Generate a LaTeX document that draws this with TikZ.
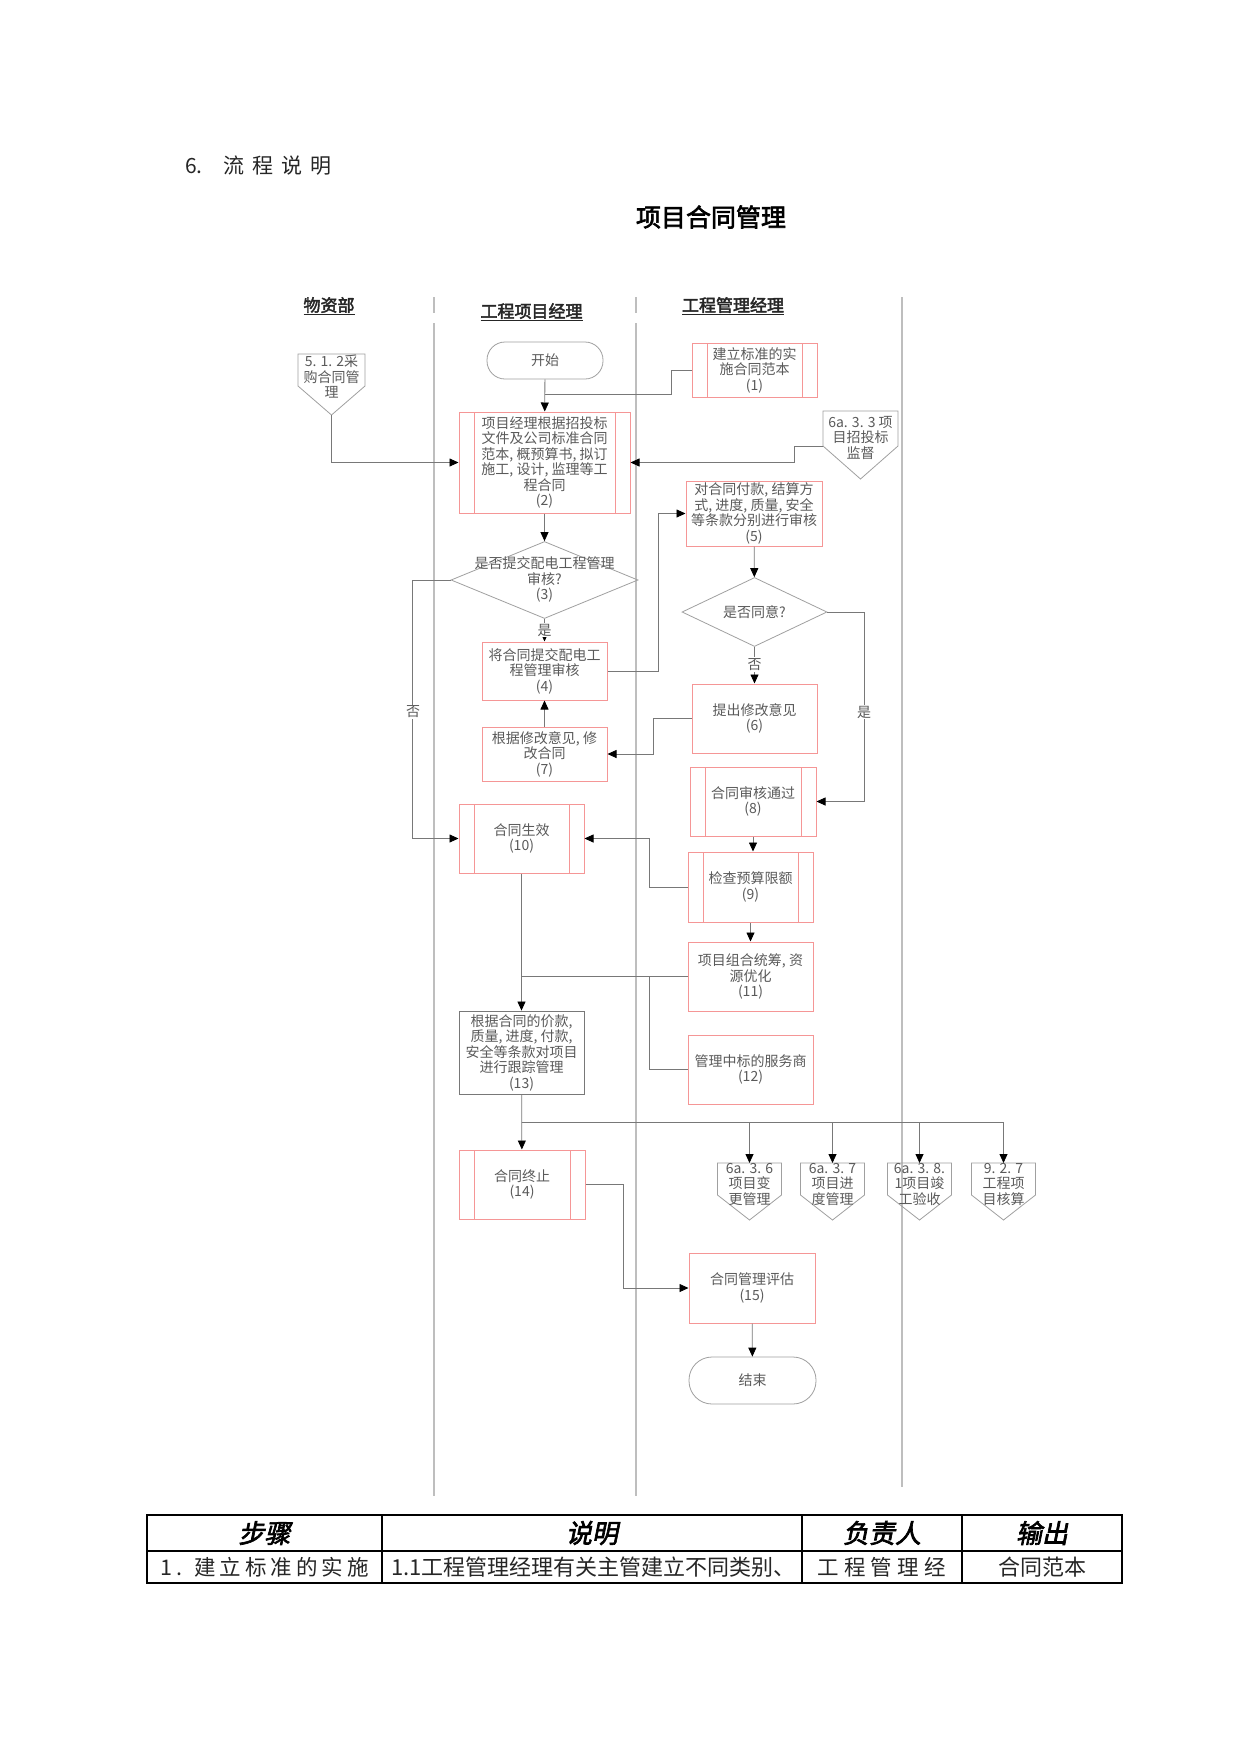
\documentclass[tikz,border=0pt]{standalone}
\usepackage{fontspec}
\setmainfont{Noto Sans CJK SC}[AutoFakeBold=2.5,AutoFakeSlant=0.2]
\usetikzlibrary{arrows.meta, calc, shapes.geometric}
\definecolor{boxred}{RGB}{245,150,150}
\definecolor{linegray}{RGB}{120,120,120}
\definecolor{lanegray}{RGB}{190,190,190}
\definecolor{textgray}{RGB}{90,90,90}

\begin{document}
\begin{tikzpicture}[x=1pt, y=-1pt,
    boxtext/.style={font=\fontsize{14}{15.5}\selectfont, text=textgray, align=center, inner sep=0pt},
    proc/.style={rectangle, draw=boxred, line width=1pt, boxtext},
    subproc/.style={proc, path picture={
        \draw[boxred, line width=1pt] ([xshift=15pt]path picture bounding box.north west) -- ([xshift=15pt]path picture bounding box.south west)
          ([xshift=-15pt]path picture bounding box.north east) -- ([xshift=-15pt]path picture bounding box.south east);}},
    grayproc/.style={rectangle, draw=linegray, line width=0.9pt, boxtext},
    terminal/.style={rectangle, draw=linegray!70, line width=0.8pt, boxtext},
    decision/.style={diamond, draw=linegray!70, line width=0.8pt, inner sep=0pt},
    refshape/.style={draw=linegray!70, line width=0.8pt},
    conn/.style={draw=linegray, line width=0.8pt},
    connarr/.style={conn, -{Triangle[length=9pt, width=8pt, color=black]}},
    lane/.style={draw=lanegray, line width=1.6pt},
    lanehead/.style={font=\fontsize{17}{20}\selectfont\bfseries, text=black!85, inner sep=0pt, anchor=base},
    labeltext/.style={boxtext, fill=white, inner sep=1pt},
    tableline/.style={draw=black, line width=1.3pt}
]
\useasboundingbox (0,0) rectangle (1241,1754);
\fill[white] (0,0) rectangle (1241,1754);

% Headings
\node[font=\fontsize{21}{25}\selectfont, text=black!85, anchor=west, inner sep=0pt] (sec) at (185,166) {6.\hspace{21pt}{\addfontfeatures{LetterSpace=38}流程说明}};
\node[font=\fontsize{25}{30}\selectfont\bfseries, inner sep=0pt] (title) at (711,217) {项目合同管理};

% Lanes
\node[lanehead] (hwz) at (329,311.5) {\underline{物资部}};
\node[lanehead] (hgx) at (531.5,317.5) {\underline{工程项目经理}};
\node[lanehead] (hgl) at (733,311.5) {\underline{工程管理经理}};
\draw[lane] (434,297) -- (434,313);
\draw[lane] (434,323) -- (434,1496);
\draw[lane] (636,297) -- (636,313);
\draw[lane] (636,323) -- (636,1496);
\draw[lane] (902,297) -- (902,1487);

% Off-page references
\draw[refshape] (298,354) -- (365,354) -- (365,386) -- (331.5,415) -- (298,386) -- cycle;
\node[boxtext] (ref512) at (331.5,377) {5. 1. 2采\\购合同管\\理};
\coordinate (ref512tip) at (331.5,415);
\draw[refshape] (823,411) -- (898,411) -- (898,446) -- (860.5,479) -- (823,446) -- cycle;
\node[boxtext] (ref633) at (860.5,437.5) {6a. 3. 3 项\\目招投标\\监督};
\coordinate (ref633w) at (823,446);

\draw[refshape] (717.5,1163) -- (781.5,1163) -- (781.5,1195) -- (749.5,1220) -- (717.5,1195) -- cycle;
\node[boxtext] (ref636) at (749.5,1184) {6a. 3. 6\\项目变\\更管理};
\coordinate (ref636top) at (749.5,1163);
\draw[refshape] (800.5,1163) -- (864.5,1163) -- (864.5,1195) -- (832.5,1220) -- (800.5,1195) -- cycle;
\node[boxtext] (ref637) at (832.5,1184) {6a. 3. 7\\项目进\\度管理};
\coordinate (ref637top) at (832.5,1163);
\draw[refshape] (887.5,1163) -- (951.5,1163) -- (951.5,1195) -- (919.5,1220) -- (887.5,1195) -- cycle;
\node[boxtext] (ref638) at (919.5,1184) {6a. 3. 8.\\1项目竣\\工验收};
\coordinate (ref638top) at (919.5,1163);
\draw[refshape] (971.5,1163) -- (1035.5,1163) -- (1035.5,1195) -- (1003.5,1220) -- (971.5,1195) -- cycle;
\node[boxtext] (ref927) at (1003.5,1184) {9. 2. 7\\工程项\\目核算};
\coordinate (ref927top) at (1003.5,1163);

% Steps
\node[terminal, minimum width=116pt, minimum height=37pt, rounded corners=18pt] (start) at (545,360.5) {开始};
\node[subproc, minimum width=125pt, minimum height=54pt] (box1) at (754.5,370) {建立标准的实\\施合同范本\\(1)};
\node[subproc, minimum width=171pt, minimum height=101pt] (box2) at (544.5,462.5) {项目经理根据招投标\\文件及公司标准合同\\范本, 概预算书, 拟订\\施工, 设计, 监理等工\\程合同\\(2)};
\node[proc, minimum width=136pt, minimum height=65pt] (box5) at (754,513.5) {对合同付款, 结算方\\式, 进度, 质量, 安全\\等条款分别进行审核\\(5)};
\node[decision, minimum width=187pt, minimum height=77pt] (dia3) at (544.5,580) {};
\node[boxtext] (dia3txt) at (544.5,579.5) {是否提交配电工程管理\\审核?\\(3)};
\node[proc, minimum width=125pt, minimum height=58pt] (box4) at (544.5,671) {将合同提交配电工\\程管理审核\\(4)};
\node[decision, minimum width=145pt, minimum height=69pt] (dia5) at (754.5,612) {};
\node[boxtext] (dia5txt) at (754.5,612) {是否同意?};
\node[proc, minimum width=125pt, minimum height=69pt] (box6) at (754.5,718.5) {提出修改意见\\(6)};
\node[proc, minimum width=125pt, minimum height=54pt] (box7) at (544.5,754) {根据修改意见, 修\\改合同\\(7)};
\node[subproc, minimum width=126pt, minimum height=69pt] (box8) at (753,801.5) {合同审核通过\\(8)};
\node[subproc, minimum width=125pt, minimum height=69pt] (box10) at (521.5,838.5) {合同生效\\(10)};
\node[subproc, minimum width=125pt, minimum height=70pt] (box9) at (750.5,887) {检查预算限额\\(9)};
\node[proc, minimum width=125pt, minimum height=69pt] (box11) at (750.5,976.5) {项目组合统筹, 资\\源优化\\(11)};
\node[proc, minimum width=125pt, minimum height=69pt] (box12) at (750.5,1069.5) {管理中标的服务商\\(12)};
\node[grayproc, minimum width=125pt, minimum height=83pt] (box13) at (521.5,1052.5) {根据合同的价款,\\质量, 进度, 付款,\\安全等条款对项目\\进行跟踪管理\\(13)};
\node[subproc, minimum width=126pt, minimum height=69pt] (box14) at (522,1184.5) {合同终止\\(14)};
\node[proc, minimum width=126pt, minimum height=70pt] (box15) at (752,1288) {合同管理评估\\(15)};
\node[terminal, minimum width=127pt, minimum height=47pt, rounded corners=23pt] (end) at (752.5,1380.5) {结束};

% Connectors
\coordinate (join1) at (544.5,394);
\draw[connarr] (start) -- (box2);
\draw[conn] (box1.west) -- ++(-20,0) |- (join1);
\draw[connarr] (ref512tip) |- (box2.west);
\draw[connarr] (ref633w) -- ++(-29,0) |- (box2.east);
\draw[connarr] (box2) -- (dia3);
\draw[connarr] (dia3.west) -- ++(-38,0) |- (box10.west);
\draw[connarr] (dia3.south) -- (box4.north);
\draw[connarr] (box4.east) -- ++(51,0) |- (box5.west);
\draw[connarr] (box5) -- (dia5);
\draw[connarr] (dia5.south) -- (box6.north);
\draw[connarr] (dia5.east) -- ++(37,0) |- (box8.east);
\draw[connarr] (box6.west) -- ++(-38,0) |- (box7.east);
\draw[connarr] (box7) -- (box4);
\draw[connarr] (box8.south) -- (box8.south |- box9.north);
\draw[connarr] (box9.west) -- ++(-38,0) |- (box10.east);
\draw[connarr] (box9) -- (box11);
\draw[connarr] (box10) -- (box13);
\draw[conn] (box11.west) -- (box11.west -| box10.south);
\draw[conn] (box12.west) -- ++(-38,0) |- (box11.west);
\coordinate (bus) at (521.5,1122);
\draw[connarr] (box13) -- (box14);
\draw[connarr] (bus) -| (ref636top);
\draw[connarr] (bus) -| (ref637top);
\draw[connarr] (bus) -| (ref638top);
\draw[connarr] (bus) -| (ref927top);
\draw[connarr] (box14.east) -- ++(38,0) |- (box15.west);
\draw[connarr] (box15) -- (end);

% Branch labels
\node[labeltext] (no3) at (413,712) {否};
\node[labeltext] (yes3) at (544.5,630) {是};
\node[labeltext] (no5) at (754.5,664.5) {否};
\node[labeltext] (yes5) at (864,712) {是};

% Table
\draw[tableline] (147,1515) rectangle (1122,1583);
\draw[tableline] (147,1551) -- (1122,1551);
\draw[tableline] (382,1515) -- (382,1583);
\draw[tableline] (802,1515) -- (802,1583);
\draw[tableline] (962,1515) -- (962,1583);
\node[font=\fontsize{26}{30}\selectfont\bfseries\itshape, inner sep=0pt] (th1) at (264.5,1533) {步骤};
\node[font=\fontsize{26}{30}\selectfont\bfseries\itshape, inner sep=0pt] (th2) at (592,1533) {说明};
\node[font=\fontsize{26}{30}\selectfont\bfseries\itshape, inner sep=0pt] (th3) at (882,1533) {负责人};
\node[font=\fontsize{26}{30}\selectfont\bfseries\itshape, inner sep=0pt] (th4) at (1042,1533) {输出};
\node[font=\fontsize{21.5}{25}\selectfont\addfontfeatures{LetterSpace=19}, text=black!85, anchor=west, inner sep=0pt] (td1) at (160,1567) {1. 建立标准的实施};
\node[font=\fontsize{22}{25}\selectfont, text=black!85, anchor=west, inner sep=0pt] (td2) at (391,1567) {1.1工程管理经理有关主管建立不同类别、};
\node[font=\fontsize{21.5}{25}\selectfont\addfontfeatures{LetterSpace=25}, text=black!85, anchor=west, inner sep=0pt] (td3) at (817,1567) {工程管理经};
\node[font=\fontsize{22}{25}\selectfont, text=black!85, inner sep=0pt] (td4) at (1042,1567) {合同范本};
\end{tikzpicture}
\end{document}
